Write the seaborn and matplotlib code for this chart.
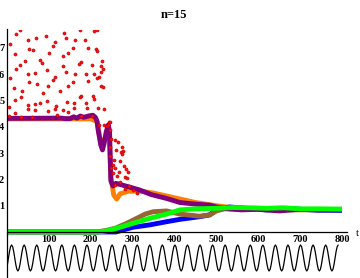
import numpy as np
import pandas as pd
import matplotlib
matplotlib.use("Agg")
import matplotlib.pyplot as plt
import seaborn as sns

# scattered red points (t, value)
red_t = [32, 22, 137, 94, 70, 49, 115, 6, 111, 53, 63, 18, 101, 134, 44, 79, 83, 32, 22, 96,
         133, 49, 68, 115, 6, 111, 53, 71, 98, 17, 37, 127, 86, 33, 18, 79, 96, 51, 116, 67,
         5, 49, 68, 97, 115, 19, 33, 5, 59, 119, 134,
         175, 207, 214, 142, 163, 187, 158, 194, 212, 216, 146, 228, 177, 173, 204, 224, 230, 141, 163, 189,
         208, 224, 220, 216, 158, 194, 224, 230, 146, 177, 175, 205, 208, 144, 161, 189, 190, 159, 217, 231,
         146, 176, 202, 219, 232, 244, 238,
         246, 242, 247, 259, 264, 248, 245, 274, 277, 272, 261, 275, 246, 256, 269, 254, 259, 280, 285, 267,
         282, 290, 287, 262, 254, 248, 270, 292, 300, 310, 283, 258]
red_y = [7.67, 7.52, 7.58, 7.45, 7.38, 7.29, 7.21, 7.15, 7.06, 6.95, 6.92, 6.77, 6.81, 6.69, 6.49, 6.53, 6.41, 6.34, 6.19, 6.15,
         6.30, 6.00, 6.03, 5.88, 5.86, 5.77, 5.69, 5.64, 5.54, 5.46, 5.36, 5.37, 5.29, 5.15, 5.01, 4.90, 4.97, 4.84, 4.79, 4.85,
         4.74, 4.66, 4.63, 4.60, 4.69, 4.54, 4.38, 4.41, 4.38, 4.44, 4.63,
         7.68, 7.64, 7.69, 7.36, 7.29, 7.29, 6.98, 6.98, 6.95, 6.87, 6.79, 6.49, 6.45, 6.38, 6.34, 6.30, 6.19, 6.07, 6.00, 6.00,
         6.00, 6.07, 5.88, 5.84, 5.69, 5.73, 5.54, 5.50, 5.54, 5.18, 5.12, 5.16, 5.05, 4.93, 4.89, 4.89, 4.73, 4.70, 4.73, 4.66,
         4.55, 4.42, 4.40, 4.08, 4.08, 4.17, 4.04,
         4.19, 4.07, 3.88, 3.50, 3.43, 3.54, 3.25, 3.22, 3.08, 3.03, 3.12, 2.95, 2.90, 2.74, 2.70, 2.55, 2.45, 2.51, 2.38, 2.29,
         2.10, 2.29, 2.04, 2.14, 2.23, 2.42, 1.90, 1.75, 1.60, 1.50, 1.65, 1.80]

orange_t = [0, 200, 215, 225, 235, 243, 248, 255, 262, 270, 290, 320, 350, 400, 450, 500, 550, 600, 700, 800]
orange_y = [4.30, 4.30, 4.20, 3.30, 3.60, 4.00, 2.10, 1.40, 1.25, 1.45, 1.55, 1.55, 1.48, 1.30, 1.12, 1.00, 0.90, 0.88, 0.84, 0.86]

purple_t = [0, 130, 139, 151, 159, 167, 175, 183, 195, 205, 211, 215, 218, 224, 228, 232, 237, 242, 245, 248,
            253, 260, 290, 316, 345, 380, 413, 450, 484, 500, 530, 560, 600, 650, 700, 750, 800]
purple_y = [4.32, 4.33, 4.31, 4.31, 4.38, 4.33, 4.41, 4.36, 4.41, 4.44, 4.36, 4.21, 3.85, 3.31, 3.12, 3.37, 3.81, 4.07, 3.80, 1.95,
            1.75, 1.85, 1.72, 1.60, 1.42, 1.28, 1.12, 1.06, 1.02, 0.95, 0.88, 0.84, 0.86, 0.80, 0.86, 0.84, 0.85]

brown_t = [0, 215, 240, 260, 286, 310, 330, 349, 381, 413, 460, 485, 500, 520, 600, 700, 800]
brown_y = [0, 0, 0.07, 0.15, 0.33, 0.52, 0.68, 0.77, 0.80, 0.68, 0.60, 0.65, 0.80, 0.88, 0.86, 0.85, 0.85]

blue_t = [0, 260, 301, 341, 381, 413, 460, 484, 500, 532, 570, 620, 680, 740, 800]
blue_y = [0, 0, 0.18, 0.27, 0.39, 0.48, 0.58, 0.65, 0.85, 0.95, 0.90, 0.84, 0.88, 0.83, 0.82]

green_t = [0, 220, 240, 262, 301, 341, 381, 413, 450, 500, 540, 580, 620, 660, 700, 750, 800]
green_y = [0, 0, 0.05, 0.14, 0.33, 0.52, 0.68, 0.84, 0.88, 0.90, 0.93, 0.92, 0.90, 0.92, 0.88, 0.88, 0.87]

# forcing signal under the axis: one period, repeated
wave_shape = [-1, -0.87, -0.5, 0, 0.5, 0.87, 1, 0.87, 0.5, 0, -0.5, -0.87]
wave_period = 30
wave_start = -4
wave_end = 791

x_ticks = [100, 200, 300, 400, 500, 600, 700, 800]
y_ticks = [1, 2, 3, 4, 5, 6, 7]

sns.set_style("white")
plt.rcParams['font.family'] = ['Liberation Serif', 'DejaVu Serif']
plt.rcParams['text.color'] = 'black'
plt.rcParams['xtick.color'] = 'black'
plt.rcParams['ytick.color'] = 'black'

W, H = 360, 278
fig = plt.figure(figsize=(W / 100, H / 100), dpi=100)
ax = fig.add_axes([7 / W, (H - 234.6) / H, 340 / W, 205.1 / H])
ax2 = fig.add_axes([7 / W, 0, 340 / W, 43.4 / H])

lw = 3.5
for t, y, c in [(orange_t, orange_y, '#ff8000'), (blue_t, blue_y, '#0000ff'),
                (brown_t, brown_y, '#996633'), (purple_t, purple_y, '#800080'),
                (green_t, green_y, '#00ff00')]:
    sns.lineplot(x=t, y=y, color=c, lw=lw, ax=ax, sort=False, estimator=None,
                 solid_capstyle='butt', clip_on=False)

sns.scatterplot(x=red_t, y=red_y, color='#ff1010', edgecolor='#c00000', linewidth=0.4,
                s=5, ax=ax, zorder=5)

ax.set_xlim(0, 812)
ax.set_ylim(-0.1, 7.7)
ax.spines['top'].set_visible(False)
ax.spines['right'].set_visible(False)
ax.spines['bottom'].set_position(('data', 0))
for s in ['left', 'bottom']:
    ax.spines[s].set_color('black')
    ax.spines[s].set_linewidth(0.9)
ax.set_xticks(x_ticks)
ax.set_yticks(y_ticks)
ax.tick_params(direction='in', length=3, width=0.8, labelsize=7.5, pad=2,
               colors='black', labelcolor='black')
for lab in ax.get_xticklabels() + ax.get_yticklabels():
    lab.set_fontweight('bold')
    lab.set_color('black')
ax.set_xlabel('')
ax.set_ylabel('')

# sine strip
n_per = int(np.ceil((wave_end - wave_start) / wave_period)) + 1
wave_y = np.tile(wave_shape, n_per)
wave_t = wave_start + np.arange(len(wave_y)) * wave_period / len(wave_shape)
keep = wave_t <= wave_end
sns.lineplot(x=wave_t[keep], y=wave_y[keep], color='black', lw=0.9, ax=ax2,
             sort=False, estimator=None)
ax2.set_xlim(0, 812)
ax2.set_ylim(-1.54, 1.8)
ax2.set_xticks([])
ax2.set_yticks([])
for s in ['top', 'right', 'bottom']:
    ax2.spines[s].set_visible(False)
ax2.spines['left'].set_color('black')
ax2.spines['left'].set_linewidth(0.9)
ax2.patch.set_alpha(0)

fig.text(174 / W, 1 - 14.5 / H, 'n=15', ha='center', va='center', fontsize=9,
         fontweight='bold', color='black')
fig.text(357 / W, 1 - 233 / H, 't', ha='center', va='center', fontsize=8, color='black')

fig.savefig('out.png', dpi=100)
